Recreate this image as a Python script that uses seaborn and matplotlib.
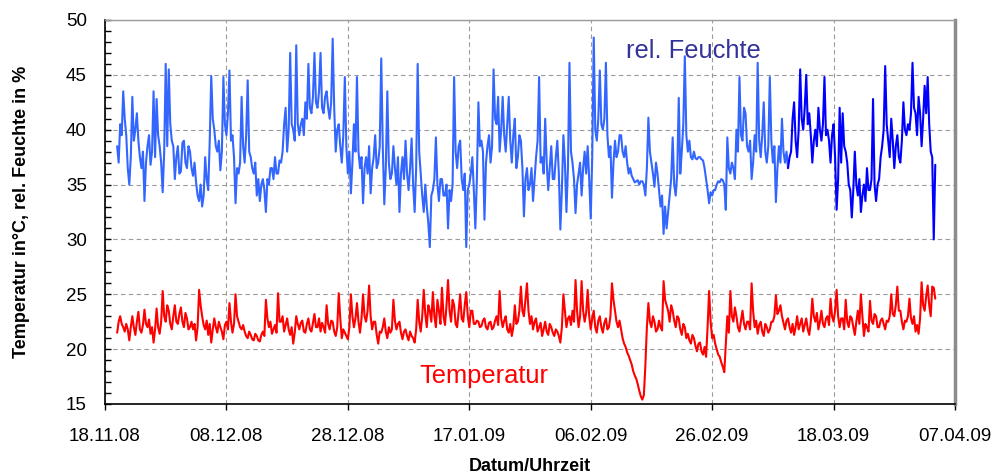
import numpy as np
import pandas as pd
import matplotlib
matplotlib.use("Agg")
import matplotlib.pyplot as plt
from matplotlib.ticker import MultipleLocator
import seaborn as sns

# ---------------- data (6-hour samples) ----------------
start_time = "2008-11-20 00:00"
sample_step = "6h"

humidity = [
    38.5, 37.0, 40.5, 39.5, 43.5, 41.0, 39.5, 36.5, 35.0, 37.5,
    43.0, 39.0, 40.0, 41.5, 39.0, 37.5, 36.5, 38.0, 33.5, 37.0,
    38.5, 39.5, 36.8, 38.0, 43.5, 37.5, 42.8, 39.5, 38.5, 37.0,
    34.3, 38.0, 46.0, 38.5, 45.5, 40.5, 39.0, 38.5, 35.5, 37.5,
    38.5, 36.0, 36.2, 38.8, 39.0, 37.0, 36.5, 38.5, 38.0, 36.5,
    35.8, 37.0, 35.2, 34.0, 33.5, 35.0, 33.0, 34.0, 37.5, 35.5,
    34.5, 39.0, 44.9, 41.0, 40.0, 38.5, 38.0, 39.0, 36.3, 38.0,
    44.8, 40.5, 39.5, 41.5, 45.4, 39.0, 39.5, 37.5, 33.3, 36.5,
    36.0, 37.0, 43.0, 38.5, 37.0, 39.5, 44.5, 38.0, 37.5, 36.5,
    36.0, 37.0, 34.0, 35.5, 33.5, 35.0, 35.5, 34.5, 32.5, 35.5,
    35.0, 36.5, 36.5, 35.5, 37.5, 36.0, 36.0, 37.2, 37.0, 38.0,
    40.5, 42.0, 38.0, 40.0, 47.0, 40.5, 40.0, 39.0, 47.7, 40.5,
    39.5, 40.5, 41.0, 39.5, 42.5, 41.0, 46.0, 42.0, 41.5, 43.0,
    47.0, 42.5, 42.0, 43.5, 47.0, 42.0, 41.5, 43.0, 43.5, 42.0,
    41.0, 42.5, 48.3, 42.0, 38.0, 40.0, 40.5, 38.5, 37.0, 39.5,
    44.8, 38.5, 36.0, 38.0, 34.2, 37.0, 40.5, 38.0, 44.8, 38.0,
    36.5, 37.5, 33.3, 36.5, 37.5, 36.0, 38.5, 34.2, 36.5, 37.5,
    39.5, 36.5, 37.0, 38.5, 46.5, 38.5, 33.2, 36.5, 43.5, 37.0,
    35.5, 36.0, 38.5, 36.5, 35.0, 37.5, 32.5, 36.0, 37.5, 35.5,
    39.0, 36.0, 34.5, 36.5, 39.2, 35.0, 32.5, 36.5, 46.0, 38.0,
    36.0, 34.0, 32.5, 35.0, 33.0, 31.5, 29.3, 34.0, 34.5, 35.5,
    39.3, 35.0, 33.5, 35.5, 35.5, 34.0, 34.0, 35.0, 31.0, 34.5,
    33.5, 35.0, 44.8, 38.0, 36.5, 38.5, 39.0, 35.5, 34.5, 36.0,
    29.3, 34.5, 35.0, 36.0, 37.5, 34.5, 31.0, 35.5, 42.5, 38.5,
    39.0, 38.0, 31.8, 37.0, 38.5, 39.5, 37.0, 38.5, 45.5, 41.0,
    40.5, 43.0, 38.0, 40.0, 43.0, 39.5, 38.0, 40.5, 43.0, 39.0,
    37.0, 39.5, 41.0, 36.5, 37.5, 39.5, 39.0, 36.5, 32.1, 35.5,
    36.5, 34.5, 35.0, 36.5, 33.5, 35.5, 37.5, 39.0, 44.8, 37.0,
    37.5, 36.0, 41.0, 37.0, 34.5, 36.5, 38.5, 35.5, 35.5, 37.5,
    39.0, 36.0, 30.9, 34.5, 39.5, 37.0, 32.5, 36.5, 46.1, 38.0,
    37.0, 35.5, 32.4, 35.0, 36.0, 37.0, 34.0, 36.5, 38.0, 36.0,
    38.5, 35.5, 31.9, 37.5, 48.4, 40.0, 39.0, 41.0, 45.4, 40.5,
    40.0, 41.0, 46.1, 39.5, 37.5, 38.5, 33.8, 37.0, 39.0, 37.5,
    38.0, 39.5, 39.5, 38.0, 37.5, 38.5, 37.0, 36.0, 36.5, 35.8,
    35.5, 35.2, 35.3, 35.4, 35.0, 35.3, 35.3, 35.0, 34.0, 36.5,
    41.1, 38.0, 37.0, 36.0, 34.8, 37.0, 36.0, 34.5, 33.0, 34.0,
    30.5, 33.0, 31.0, 32.5, 34.0, 35.5, 39.3, 35.0, 34.0, 36.0,
    42.9, 36.0, 38.0, 40.5, 46.7, 39.5, 38.0, 39.0, 37.5, 37.3,
    38.0, 37.4, 37.3, 37.5, 37.5, 37.3, 37.2, 36.5, 35.5, 34.5,
    33.3, 34.3, 34.0, 34.5, 34.5, 35.0, 35.3, 35.2, 35.5, 35.4,
    35.0, 32.7, 39.3, 36.5, 36.0, 37.0, 36.5, 35.5, 40.0, 38.0,
    44.8, 39.5, 39.0, 42.0, 41.5, 38.5, 38.0, 39.0, 35.5, 37.0,
    39.5, 38.0, 46.1, 39.0, 37.5, 39.5, 42.5, 38.0, 37.0, 38.5,
    44.8, 39.0, 37.0, 38.5, 33.4, 36.5, 38.5, 37.0, 41.0, 38.0,
    37.0, 38.0, 36.5, 37.5, 38.0, 41.0, 42.5, 39.0, 37.5, 40.0,
    45.5, 41.0, 40.0, 42.0, 45.0, 40.5, 41.5, 39.5, 37.0, 39.0,
    40.0, 38.5, 42.0, 40.0, 39.0, 40.5, 44.8, 39.5, 40.0, 39.0,
    37.0, 39.5, 40.5, 37.5, 32.7, 35.5, 42.0, 37.0, 41.5, 38.5,
    38.0, 37.0, 35.0, 34.5, 32.0, 34.5, 38.0, 35.0, 34.0, 35.5,
    32.5, 34.0, 35.0, 33.5, 36.5, 34.5, 34.5, 35.5, 42.8, 35.0,
    33.5, 35.0, 35.5, 37.5, 38.5, 40.0, 45.8, 40.5, 39.0, 37.5,
    41.0, 39.0, 36.5, 38.5, 39.5, 37.5, 37.0, 39.0, 42.5, 40.0,
    39.5, 40.5, 40.0, 41.5, 46.1, 42.0, 41.5, 39.5, 43.0, 41.5,
    38.5, 41.0, 44.0, 41.5, 44.8, 40.5, 38.0, 37.5, 30.0, 36.8,
]

temperature = [
    21.5, 22.5, 23.0, 22.3, 22.0, 21.6, 22.3, 21.8, 20.8, 22.0,
    23.0, 22.0, 21.3, 22.5, 23.4, 21.8, 21.5, 22.2, 23.6, 22.3,
    22.0, 22.7, 21.4, 22.0, 20.6, 21.8, 23.7, 22.0, 21.4, 22.5,
    25.3, 23.0, 22.5, 24.0, 23.5, 22.3, 21.8, 23.0, 24.0, 22.5,
    22.3, 23.2, 23.8, 22.5, 22.0, 23.3, 22.8, 21.8, 22.0, 22.5,
    21.8, 22.3, 20.8, 22.0, 25.4, 24.0, 23.0, 22.2, 21.8, 22.6,
    21.3, 22.3, 20.6, 21.8, 22.8, 22.0, 21.5, 22.5, 22.0, 21.6,
    20.9, 22.2, 22.5, 21.8, 24.2, 22.5, 21.5, 22.3, 25.0, 23.0,
    22.5, 22.0, 21.8, 22.2, 21.6, 21.2, 21.0, 21.6, 21.3, 20.9,
    20.8, 21.4, 21.2, 20.8, 20.7, 21.3, 21.6, 21.2, 24.5, 22.8,
    22.0, 22.5, 21.4, 21.8, 22.2, 21.5, 25.1, 22.5, 22.5, 23.0,
    21.6, 22.2, 22.8, 21.8, 21.3, 22.0, 20.5, 21.5, 23.0, 22.3,
    21.8, 22.4, 22.6, 21.6, 21.5, 22.3, 22.8, 21.8, 21.6, 22.4,
    23.2, 22.0, 22.0, 22.8, 21.6, 22.4, 22.0, 21.5, 24.0, 22.3,
    21.8, 22.6, 22.5, 21.6, 21.2, 22.0, 25.1, 22.8, 21.0, 21.8,
    21.5, 21.2, 20.9, 22.0, 25.0, 23.0, 22.0, 22.8, 24.2, 22.5,
    21.5, 22.8, 25.0, 23.0, 22.5, 23.5, 25.8, 23.0, 21.8, 22.5,
    22.5, 21.3, 20.5, 21.6, 21.5, 22.0, 22.8, 21.6, 21.0, 22.0,
    21.5, 21.8, 24.5, 22.6, 21.8, 22.3, 22.5, 21.5, 20.9, 21.6,
    21.8, 21.2, 20.8, 21.6, 21.2, 21.0, 20.6, 21.8, 24.5, 22.5,
    21.6, 23.0, 25.4, 23.2, 22.0, 24.0, 23.5, 22.5, 25.2, 23.0,
    22.0, 24.5, 23.5, 22.3, 25.6, 23.0, 22.2, 24.0, 26.3, 23.5,
    22.5, 24.5, 24.0, 22.3, 22.0, 23.5, 25.0, 22.8, 22.5, 24.0,
    25.2, 23.0, 22.0, 23.5, 23.5, 22.3, 22.3, 22.6, 22.5, 22.0,
    22.1, 22.6, 22.8, 22.0, 21.8, 22.4, 22.5, 21.8, 22.0, 22.6,
    23.0, 22.2, 25.3, 22.8, 22.0, 22.6, 23.0, 21.8, 21.5, 22.3,
    21.2, 22.0, 24.0, 22.3, 22.5, 23.5, 25.7, 23.5, 23.0, 24.5,
    26.0, 23.5, 22.3, 23.0, 21.8, 22.5, 22.8, 21.6, 22.0, 22.4,
    21.2, 21.8, 22.5, 21.6, 21.3, 22.3, 22.0, 21.5, 21.2, 21.8,
    21.6, 21.2, 20.6, 22.0, 25.0, 23.5, 22.0, 22.8, 23.0, 22.2,
    23.5, 22.5, 26.3, 23.5, 22.0, 23.0, 26.2, 23.5, 22.5, 23.3,
    25.4, 23.0, 21.8, 22.8, 23.5, 22.0, 21.5, 22.6, 23.0, 22.0,
    21.5, 22.4, 22.8, 21.8, 22.0, 23.0, 26.0, 24.5, 23.5, 22.5,
    22.0, 22.6, 21.8, 21.0, 20.5, 20.2, 19.7, 19.4, 19.0, 18.6,
    18.0, 17.6, 17.3, 16.8, 16.2, 15.7, 15.4, 15.8, 18.5, 22.0,
    24.2, 22.5, 22.0, 23.0, 22.5, 21.6, 21.8, 22.6, 22.0, 21.7,
    26.2, 24.5, 24.0, 23.5, 22.5, 24.0, 23.5, 22.6, 22.0, 23.0,
    22.8, 21.8, 21.3, 22.3, 22.0, 21.0, 21.4, 20.8, 20.5, 21.3,
    21.0, 20.3, 19.8, 20.5, 20.6, 19.8, 19.5, 20.2, 19.3, 22.0,
    25.3, 22.5, 21.0, 21.3, 20.5, 20.0, 19.5, 19.3, 18.8, 18.4,
    17.9, 20.5, 23.0, 21.5, 25.3, 23.0, 22.5, 23.8, 23.0, 22.0,
    21.6, 22.6, 23.5, 22.3, 21.8, 22.5, 22.5, 21.8, 26.0, 23.5,
    22.0, 22.6, 21.4, 22.2, 22.5, 21.6, 21.2, 22.3, 22.0, 21.5,
    21.8, 22.5, 22.5, 23.0, 24.9, 23.2, 23.5, 24.0, 23.0, 22.4,
    21.8, 22.6, 22.8, 22.0, 21.5, 22.3, 21.3, 22.0, 23.0, 21.8,
    22.3, 22.8, 21.6, 22.2, 22.8, 21.8, 21.3, 22.5, 24.6, 23.0,
    22.5, 23.3, 21.8, 22.5, 23.5, 22.3, 22.0, 22.8, 23.0, 22.2,
    24.6, 23.0, 22.5, 23.5, 25.4, 23.0, 22.0, 22.8, 22.8, 21.8,
    24.5, 22.5, 22.0, 23.0, 22.8, 22.0, 21.3, 22.5, 23.5, 22.3,
    25.0, 23.0, 21.2, 22.3, 22.0, 21.6, 24.4, 22.6, 22.3, 23.2,
    23.0, 22.0, 22.0, 22.6, 22.8, 22.3, 21.8, 22.6, 22.5, 23.0,
    25.0, 23.2, 23.0, 24.0, 25.7, 23.5, 23.5, 22.5, 21.8, 22.6,
    22.5, 23.0, 24.6, 22.8, 22.3, 23.0, 21.6, 22.2, 21.4, 22.8,
    26.1, 24.0, 23.5, 24.8, 25.8, 24.0, 23.0, 25.7, 25.6, 24.6,
]

# sample index where the humidity trace changes to the darker blue
colour_switch_index = 442

tick_dates = ["2008-11-18", "2008-12-08", "2008-12-28", "2009-01-17",
              "2009-02-06", "2009-02-26", "2009-03-18", "2009-04-07"]
tick_labels = ["18.11.08", "08.12.08", "28.12.08", "17.01.09",
               "06.02.09", "26.02.09", "18.03.09", "07.04.09"]
y_ticks = [15, 20, 25, 30, 35, 40, 45, 50]

# ---------------- styling ----------------
sns.set_style("white")
plt.rcParams["font.family"] = ["Liberation Sans", "DejaVu Sans"]

times = pd.date_range(start_time, periods=len(humidity), freq=sample_step)
df = pd.DataFrame({"time": times, "humidity": humidity, "temperature": temperature})

fig = plt.figure(figsize=(9.95, 4.76), dpi=100)
ax = fig.add_axes([105 / 995, 1 - 404 / 476, 850 / 995, 384 / 476])

lw = 1.5
sns.lineplot(data=df.iloc[:colour_switch_index + 1], x="time", y="humidity",
             color="#3366FF", linewidth=lw, ax=ax, zorder=3)
sns.lineplot(data=df.iloc[colour_switch_index:], x="time", y="humidity",
             color="#0000FF", linewidth=lw, ax=ax, zorder=3)
sns.lineplot(data=df, x="time", y="temperature",
             color="#FF0000", linewidth=lw, ax=ax, zorder=3)

t0 = pd.Timestamp(tick_dates[0])
ax.set_xlim(pd.Timestamp(tick_dates[0]), pd.Timestamp(tick_dates[-1]))
ax.set_xticks(pd.to_datetime(tick_dates))
ax.set_xticklabels(tick_labels)
ax.set_ylim(15, 50)
ax.set_yticks(y_ticks)
ax.yaxis.set_minor_locator(MultipleLocator(1))

ax.set_axisbelow(True)
ax.grid(True, which="major", color="#9a9a9a", linestyle=(0, (4, 3)), linewidth=0.8)
ax.grid(False, which="minor")

for side in ["left", "bottom"]:
    ax.spines[side].set_color("#000000")
    ax.spines[side].set_linewidth(1.2)
ax.spines["top"].set_color("#9a9a9a")
ax.spines["top"].set_linewidth(1.0)
ax.spines["right"].set_color("#8c8c8c")
ax.spines["right"].set_linewidth(2.5)

ax.tick_params(axis="y", which="both", left=True, direction="in", length=4.5,
               width=1, color="#000000", labelsize=13.5, pad=13, labelcolor="#000000")
ax.tick_params(axis="x", which="major", bottom=True, direction="out", length=4.5,
               width=1, color="#000000", labelsize=13.5, pad=12.8, labelcolor="#000000")

ax.set_xlabel("Datum/Uhrzeit", fontsize=13, fontweight="bold", color="#000000")
ax.set_ylabel("Temperatur in°C, rel. Feuchte in %", fontsize=13, fontweight="bold",
              color="#000000")
ax.xaxis.set_label_coords(0.5, (404 - 458) / 384)
ax.yaxis.set_label_coords(-0.088, 0.5)

ax.text(t0 + pd.Timedelta(days=96.9), 46.5, "rel. Feuchte", color="#333399",
        fontsize=18.4, ha="center", va="baseline", zorder=4)
ax.text(t0 + pd.Timedelta(days=62.4), 16.88, "Temperatur", color="#FF0000",
        fontsize=18.4, ha="center", va="baseline", zorder=4)

fig.savefig("out.png", dpi=100, facecolor="white")
